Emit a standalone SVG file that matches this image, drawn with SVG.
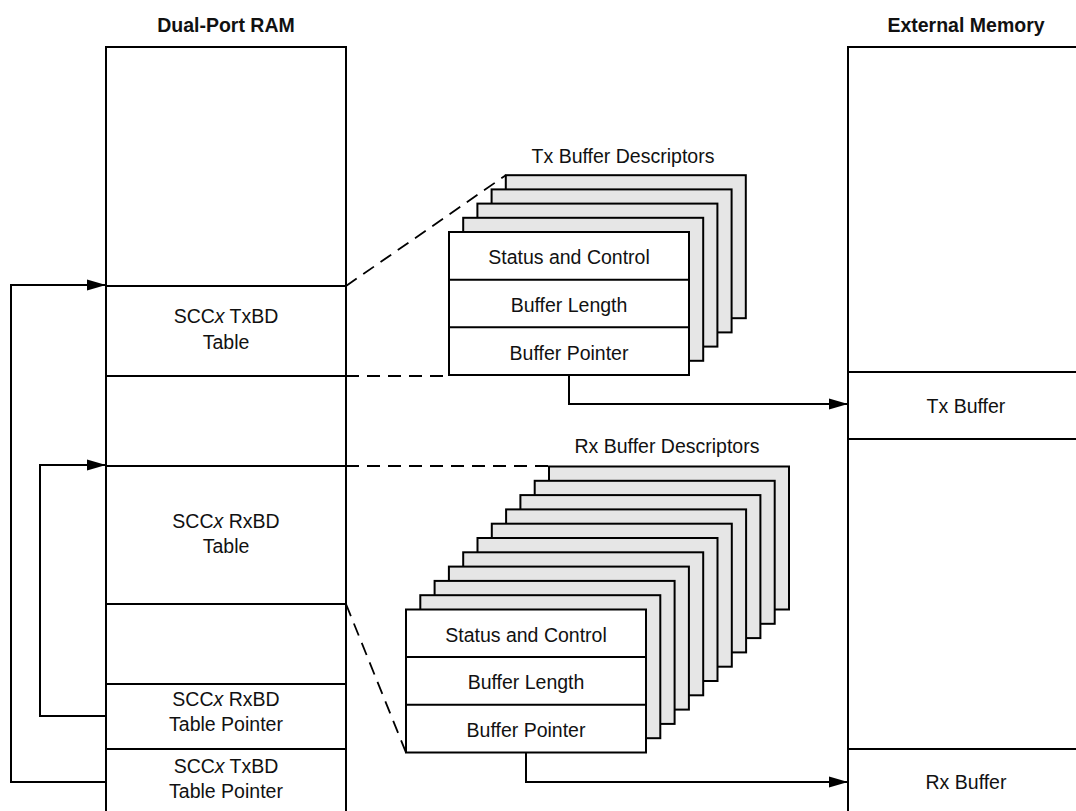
<svg xmlns="http://www.w3.org/2000/svg" width="1076" height="811" viewBox="0 0 1076 811">
<style>
.ln{stroke:#000;stroke-width:2;fill:none}
.ds{stroke:#000;stroke-width:1.8;fill:none;stroke-dasharray:13 8}
.bk{stroke:#000;stroke-width:2;fill:#e6e6e6}
.fr{stroke:#000;stroke-width:2;fill:#fff}
text{font-family:"Liberation Sans",Arial,sans-serif;font-size:19.5px;fill:#111;text-anchor:middle}
.hd{font-weight:bold;font-size:19.5px}
</style>
<defs>
<marker id="ah" markerWidth="20" markerHeight="12" refX="19" refY="6" orient="auto" markerUnits="userSpaceOnUse">
<path d="M0,0.5 L19,6 L0,11.5 Z" fill="#000"/>
</marker>
</defs>
<rect width="1076" height="811" fill="#fff"/>

<g id="dpram">
<text class="hd" x="226" y="32">Dual-Port RAM</text>
<path class="ln" d="M106,811 V47 H346 V811"/>
<path class="ln" d="M106,286 H346 M106,376 H346 M106,466 H346 M106,604 H346 M106,684 H346 M106,749 H346"/>
</g>
<g id="txbd-table">
<text x="226" y="323"><tspan>SCC</tspan><tspan font-style="italic">x</tspan><tspan> TxBD</tspan></text>
<text x="226" y="349">Table</text>
</g>
<g id="rxbd-table">
<text x="226" y="528"><tspan>SCC</tspan><tspan font-style="italic">x</tspan><tspan> RxBD</tspan></text>
<text x="226" y="553">Table</text>
</g>
<g id="rxbd-ptr">
<text x="226" y="706"><tspan>SCC</tspan><tspan font-style="italic">x</tspan><tspan> RxBD</tspan></text>
<text x="226" y="731">Table Pointer</text>
</g>
<g id="txbd-ptr">
<text x="226" y="773"><tspan>SCC</tspan><tspan font-style="italic">x</tspan><tspan> TxBD</tspan></text>
<text x="226" y="798">Table Pointer</text>
</g>

<g id="extmem">
<text class="hd" x="966" y="32">External Memory</text>
<path class="ln" d="M848,811 V47 H1080"/>
</g>
<g id="txbuf">
<path class="ln" d="M848,372 H1080 M848,439 H1080"/>
<text x="966" y="413">Tx Buffer</text>
</g>
<g id="rxbuf">
<path class="ln" d="M848,749 H1080"/>
<text x="966" y="789">Rx Buffer</text>
</g>

<g id="tx-descriptors">
<text x="623" y="163">Tx Buffer Descriptors</text>
<rect class="bk" x="505.8" y="175.2" width="240" height="143"/>
<rect class="bk" x="491.6" y="189.4" width="240" height="143"/>
<rect class="bk" x="477.4" y="203.6" width="240" height="143"/>
<rect class="bk" x="463.2" y="217.8" width="240" height="143"/>
<rect class="fr" x="449" y="232" width="240" height="143"/>
<path class="ln" d="M449,279.7 H689 M449,327.3 H689"/>
<text x="569" y="264">Status and Control</text>
<text x="569" y="312">Buffer Length</text>
<text x="569" y="360">Buffer Pointer</text>
</g>

<g id="rx-descriptors">
<text x="667" y="453">Rx Buffer Descriptors</text>
<rect class="bk" x="549" y="466.5" width="240" height="143"/>
<rect class="bk" x="534.7" y="480.8" width="240" height="143"/>
<rect class="bk" x="520.4" y="495.1" width="240" height="143"/>
<rect class="bk" x="506.1" y="509.4" width="240" height="143"/>
<rect class="bk" x="491.8" y="523.7" width="240" height="143"/>
<rect class="bk" x="477.5" y="538" width="240" height="143"/>
<rect class="bk" x="463.2" y="552.3" width="240" height="143"/>
<rect class="bk" x="448.9" y="566.6" width="240" height="143"/>
<rect class="bk" x="434.6" y="580.9" width="240" height="143"/>
<rect class="bk" x="420.3" y="595.2" width="240" height="143"/>
<rect class="fr" x="406" y="609.5" width="240" height="143"/>
<path class="ln" d="M406,657 H646 M406,704.7 H646"/>
<text x="526" y="641.5">Status and Control</text>
<text x="526" y="689">Buffer Length</text>
<text x="526" y="737">Buffer Pointer</text>
</g>

<g id="connectors">
<path class="ds" d="M346,286 L505.8,175.2"/>
<path class="ds" d="M346,376 H449"/>
<path class="ds" d="M346,466 H549"/>
<path class="ds" d="M346,604 L406,752.5"/>
<path class="ln" d="M569,375 V404 H848" marker-end="url(#ah)"/>
<path class="ln" d="M526,752.5 V782 H848" marker-end="url(#ah)"/>
<path class="ln" d="M106,782 H11 V285 H106" marker-end="url(#ah)"/>
<path class="ln" d="M106,716 H40 V465 H106" marker-end="url(#ah)"/>
</g>
</svg>
